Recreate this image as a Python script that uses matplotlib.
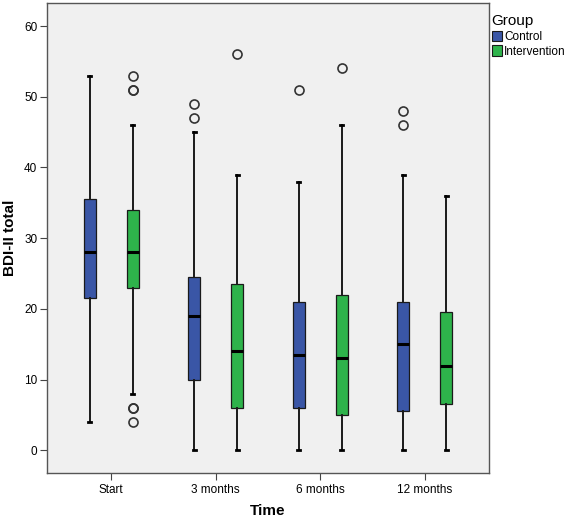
import matplotlib
matplotlib.use("Agg")
import matplotlib.pyplot as plt
from matplotlib.patches import Patch

plt.rcParams['font.family'] = ['Liberation Sans', 'DejaVu Sans']

times = ["Start", "3 months", "6 months", "12 months"]
groups = ["Control", "Intervention"]
colors = {"Control": "#3A56A6", "Intervention": "#2EB34B"}

# five-number summaries per group and time: (low whisker, Q1, median, Q3, high whisker)
control_stats = [(4, 21.5, 28, 35.5, 53),
                 (0, 10, 19, 24.5, 45),
                 (0, 6, 13.5, 21, 38),
                 (0, 5.5, 15, 21, 39)]
intervention_stats = [(8, 23, 28, 34, 46),
                      (0, 6, 14, 23.5, 39),
                      (0, 5, 13, 22, 46),
                      (0, 6.5, 12, 19.5, 36)]
control_outliers = [[], [49, 47], [51], [48, 46]]
intervention_outliers = [[53, 51, 51, 6, 6, 4], [56], [54], []]

fig = plt.figure(figsize=(5.67, 5.21), dpi=100)
ax = fig.add_axes([0.0829, 0.0921, 0.7795, 0.9027])
ax.set_facecolor("#F0F0F0")

offset = 0.206
width = 0.112

def make_stats(stats, outs):
    res = []
    for (lo, q1, med, q3, hi), fl in zip(stats, outs):
        res.append(dict(whislo=lo, q1=q1, med=med, q3=q3, whishi=hi, fliers=fl))
    return res

for g, stats, outs, sgn in [("Control", control_stats, control_outliers, -1),
                            ("Intervention", intervention_stats, intervention_outliers, 1)]:
    pos = [i + sgn * offset for i in range(len(times))]
    ax.bxp(make_stats(stats, outs), positions=pos, widths=width,
           patch_artist=True, showfliers=True,
           boxprops=dict(facecolor=colors[g], edgecolor="#1a1a1a", linewidth=0.9),
           medianprops=dict(color="black", linewidth=2.2),
           whiskerprops=dict(color="#1a1a1a", linewidth=1.4),
           capprops=dict(color="black", linewidth=2.0),
           capwidths=0.03,
           flierprops=dict(marker="o", markerfacecolor="none", markeredgecolor="#333333",
                           markersize=6.5, markeredgewidth=1.2, linestyle="none"),
           zorder=3)

ax.set_xlim(-0.615, 3.615)
ax.set_ylim(-3.2, 63.3)
ax.set_xticks(range(len(times)))
ax.set_xticklabels(times, fontsize=8.5)
ax.set_yticks([0, 10, 20, 30, 40, 50, 60])
ax.tick_params(axis="y", labelsize=8.5, length=5, width=0.8, color="#444444", pad=2)
ax.tick_params(axis="x", length=5, width=0.8, color="#444444", pad=3)
for s in ax.spines.values():
    s.set_color("#555555")
    s.set_linewidth(1.0)

ax.set_ylabel("BDI-II total", fontsize=11, fontweight="bold", labelpad=5)
ax.set_xlabel("Time", fontsize=11, fontweight="bold", labelpad=6)

handles = [Patch(facecolor=colors[g], edgecolor="#1a1a1a", linewidth=0.8) for g in groups]
leg = fig.legend(handles, groups, loc="upper left", bbox_to_anchor=(0.865, 0.975),
                 frameon=False, fontsize=8.5, title="Group", title_fontsize=11,
                 handlelength=0.9, handleheight=1.0, handletextpad=0.15,
                 borderpad=0.1, borderaxespad=0.0, labelspacing=0.2)
leg._legend_box.align = "left"

fig.savefig("out.png", dpi=100, facecolor="white")
